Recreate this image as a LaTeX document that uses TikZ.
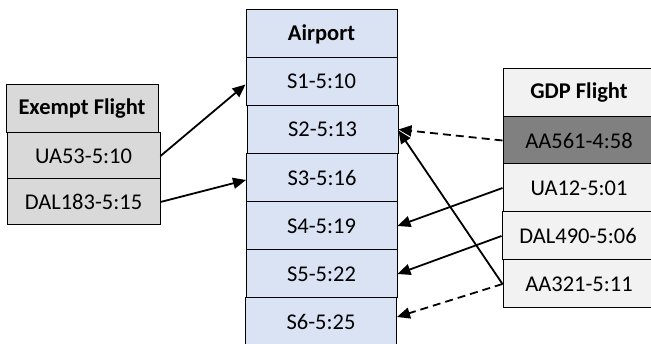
\documentclass[tikz,border=0pt]{standalone}
\usepackage{fontspec}
\setmainfont{Carlito}
\usetikzlibrary{arrows.meta}
\definecolor{apblue}{HTML}{DAE3F3}
\definecolor{exgray}{HTML}{D9D9D9}
\definecolor{gdplight}{HTML}{F2F2F2}
\definecolor{gdpdark}{HTML}{808080}
\begin{document}
\begin{tikzpicture}[x=1pt,y=-1pt,
  cell/.style={draw=black,line width=1pt,rectangle,inner sep=0pt,font=\fontsize{22.5}{26}\selectfont},
  apcell/.style={cell,fill=apblue,minimum width=151pt,minimum height=48pt},
  excell/.style={cell,fill=exgray,minimum width=153pt,minimum height=46pt},
  gdpcell/.style={cell,fill=gdplight,minimum width=152pt,minimum height=48pt},
  hdr/.style={font=\fontsize{22.5}{26}\selectfont\bfseries},
  conn/.style={line width=1.8pt,-{Triangle[length=13pt,width=11pt]}},
  dconn/.style={conn,dash pattern=on 8pt off 5pt}
]
\useasboundingbox (0,0) rectangle (651,344);
\clip (0,0) rectangle (651,344);
% Airport column
\node[apcell,hdr] (ap) at (321.5,34) {Airport};
\node[apcell] (s1) at (321.5,81.5) {S1-5:10};
\node[apcell] (s2) at (322.5,129.5) {S2-5:13};
\node[apcell] (s3) at (322,178) {S3-5:16};
\node[apcell] (s4) at (321.5,226) {S4-5:19};
\node[apcell] (s5) at (321.5,274) {S5-5:22};
\node[apcell] (s6) at (321,322) {S6-5:25};
% Exempt column
\node[excell,hdr,minimum width=152pt,minimum height=48pt] (ex) at (82,109) {Exempt Flight};
\node[excell] (ua53) at (83.5,156) {UA53-5:10};
\node[excell] (dal183) at (83.5,202) {DAL183-5:15};
% GDP column (cut by the right edge)
\node[gdpcell,hdr] (gdp) at (579,93) {GDP Flight};
\node[gdpcell,fill=gdpdark] (aa561) at (579,140.5) {AA561-4:58};
\node[gdpcell] (ua12) at (579,188) {UA12-5:01};
\node[gdpcell] (dal490) at (578,236) {DAL490-5:06};
\node[gdpcell] (aa321) at (579,284) {AA321-5:11};
% Connectors
\draw[conn] (ua53.east) -- ([yshift=-3pt]s1.west);
\draw[conn] (dal183.east) -- ([yshift=-2pt]s3.west);
\draw[dconn] (aa561.west) -- (s2.east);
\draw[conn] (ua12.west) -- (s4.east);
\draw[conn] (dal490.west) -- (s5.east);
\draw[dconn] (aa321.west) -- ([yshift=5pt]s6.east);
\draw[conn] (aa321.west) -- ([yshift=-1pt]s2.east);
\end{tikzpicture}
\end{document}
